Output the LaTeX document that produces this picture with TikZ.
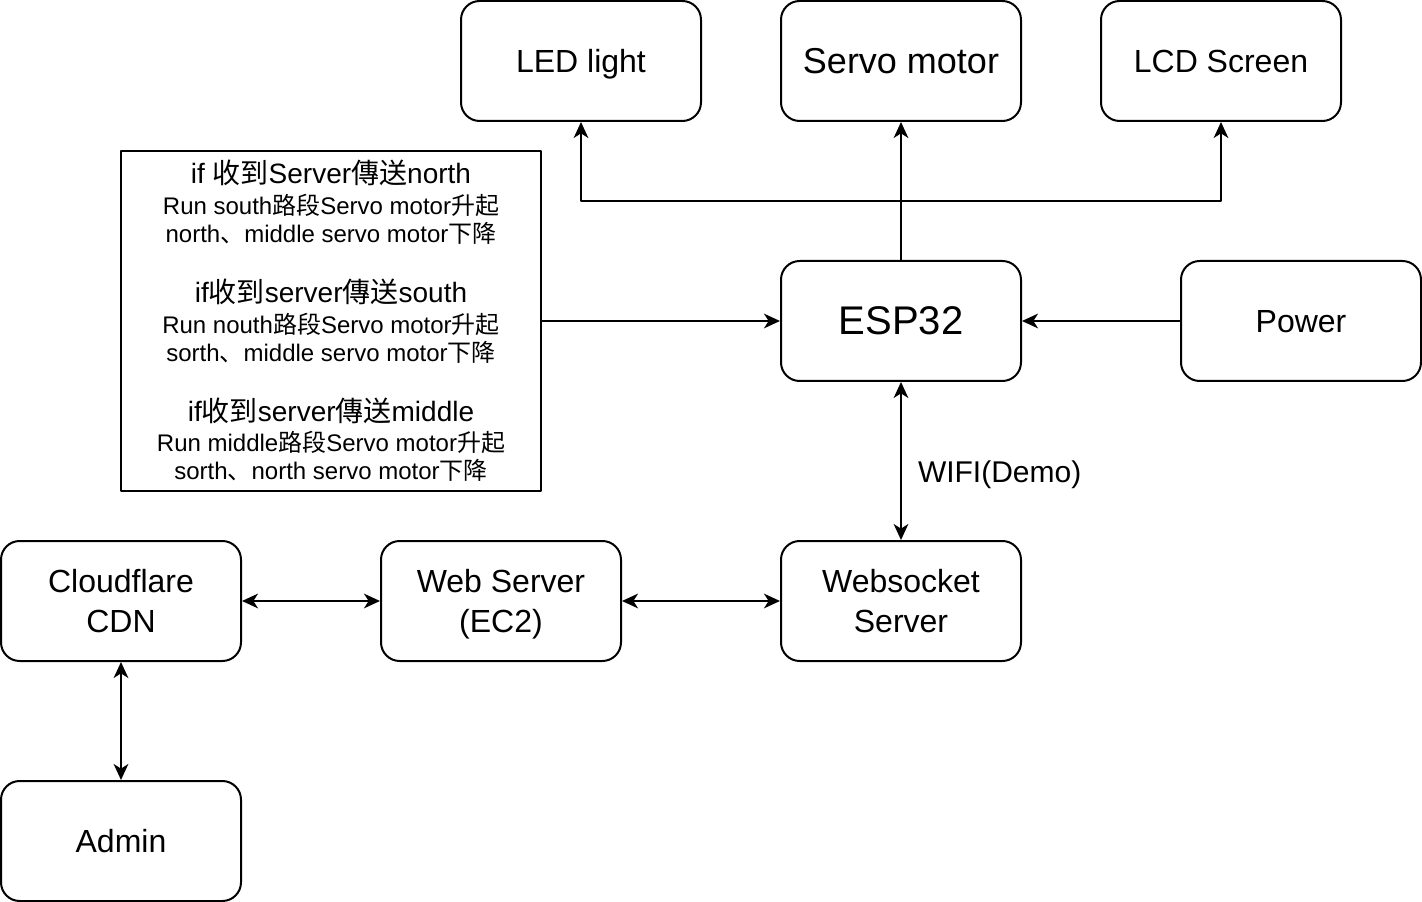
\documentclass[tikz,border=0pt]{standalone}
\usepackage{fontspec}
\setmainfont{Liberation Sans}
\newfontfamily\zhfont{Noto Sans CJK SC}
\newcommand\zh[1]{{\zhfont #1}}
\usetikzlibrary{arrows.meta}
\begin{document}
\begin{tikzpicture}[x=.75pt, y=-.75pt, line width=1.5pt, line join=round, >={Stealth[length=12pt, width=11pt, inset=3.5pt]}, font=\fontsize{24}{30}\selectfont]
			\def\hd{\fontsize{21}{25}\selectfont}
			\tikzset{box/.style={draw, rounded corners=14pt, minimum width=180pt, minimum height=90pt, align=center, inner sep=2pt, text depth=0pt}}
			\useasboundingbox (0,0) rectangle (1422,902);
			% outputs
			\node[box] (led) at (581,61) {LED light};
			\node[box, font=\fontsize{27}{32}\selectfont] (servo) at (901,61) {Servo motor};
			\node[box] (lcd) at (1221,61) {LCD Screen};
			% controller
			\node[box, font=\fontsize{30}{36}\selectfont] (esp) at (901,321) {ESP32};
			\node[box] (power) at (1301,321) {Power};
			\node[draw, minimum width=315pt, minimum height=255pt, inner sep=0pt, align=center, font=\fontsize{18}{21}\selectfont] (rules) at (331,321) {%
				\hd if \zh{收到}Server\zh{傳送}north\\[2pt]
				Run south\zh{路段}Servo motor\zh{升起}\\
				north\zh{、}middle servo motor\zh{下降}\\[24pt]
				\hd if\zh{收到}server\zh{傳送}south\\[2pt]
				Run nouth\zh{路段}Servo motor\zh{升起}\\
				sorth\zh{、}middle servo motor\zh{下降}\\[24pt]
				\hd if\zh{收到}server\zh{傳送}middle\\[2pt]
				Run middle\zh{路段}Servo motor\zh{升起}\\
				sorth\zh{、}north servo motor\zh{下降}};
			% servers
			\node[box] (ws) at (901,601) {Websocket\\Server};
			\node[box] (web) at (501,601) {Web Server\\(EC2)};
			\node[box] (cdn) at (121,601) {Cloudflare\\CDN};
			\node[box] (admin) at (121,841) {Admin};
			\coordinate (split) at (901,201);
			\draw[->] (esp) -- (servo);
			\draw[->] (split) -| (led);
			\draw[->] (split) -| (lcd);
			\draw[->] (rules) -- (esp);
			\draw[->] (power) -- (esp);
			\draw[<->] (esp) -- node[right=12pt, inner sep=0pt, pos=.57, text depth=0pt, font=\fontsize{22.5}{27}\selectfont]{WIFI(Demo)} (ws);
			\draw[<->] (ws) -- (web);
			\draw[<->] (web) -- (cdn);
			\draw[<->] (cdn) -- (admin);
		\end{tikzpicture}
\end{document}
